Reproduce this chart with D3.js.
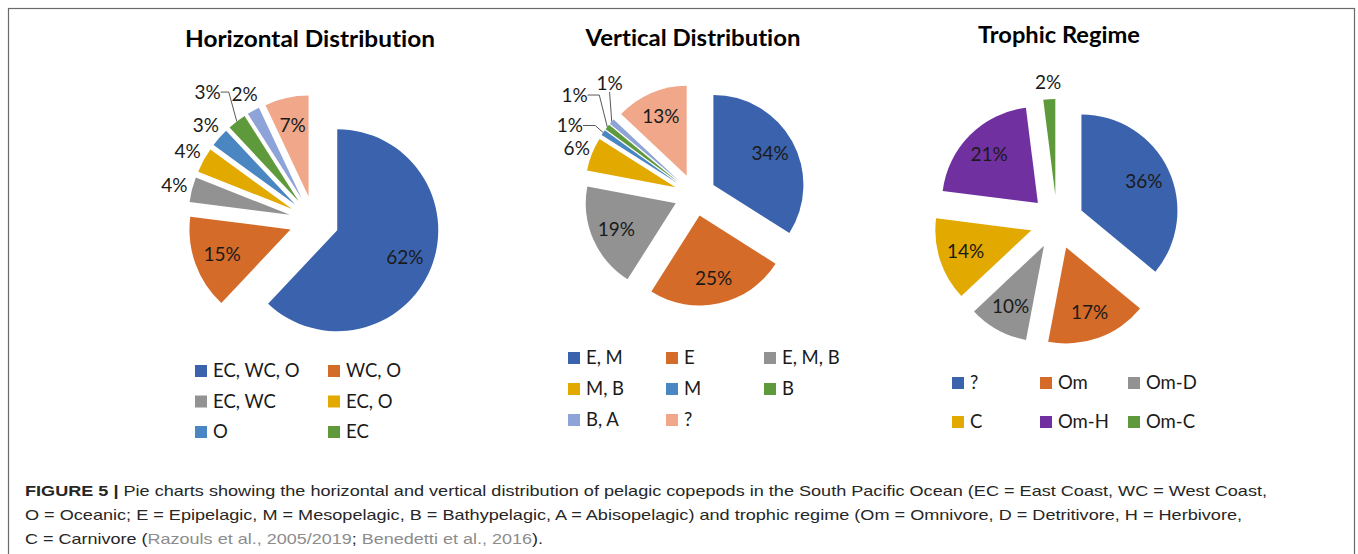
<!DOCTYPE html>
<html lang="en">
<head>
<meta charset="utf-8">
<script src="https://cdnjs.cloudflare.com/ajax/libs/d3/7.8.5/d3.min.js"></script>
<style>
html, body { margin: 0; padding: 0; background: #fff; }
svg { display: block; font-variant-ligatures: none; }
.title { font-family: Lato, 'Open Sans', sans-serif; font-weight: bold; font-size: 22px; fill: #000; }
.pct { font-family: Lato, 'Open Sans', sans-serif; font-size: 19px; fill: #1a1a1a; }
.legend text { font-family: Lato, 'Open Sans', sans-serif; font-size: 18.5px; fill: #1a1a1a; }
.caption { font-family: 'Liberation Sans', Arial, sans-serif; font-size: 15px; fill: #262626; }
.caption .cite { fill: #8c8c8c; }
.caption .bold { font-weight: bold; }
</style>
</head>
<body>
<svg width="1358" height="554"></svg>
<script>
// ---- data ----
const horizCategories = ['EC, WC, O', 'WC, O', 'EC, WC', 'EC, O', 'O', 'EC', 'WC', '?'];
const horizValues = [62, 15, 4, 4, 3, 3, 2, 7];

const vertCategories = ['E, M', 'E', 'E, M, B', 'M, B', 'M', 'B', 'B, A', '?'];
const vertValues = [34, 25, 19, 6, 1, 1, 1, 13];

const trophCategories = ['?', 'Om', 'Om-D', 'C', 'Om-H', 'Om-C'];
const trophValues = [36, 17, 10, 14, 21, 2];

const officeColors = ['#3a62ad', '#d46b28', '#929292', '#e2a900', '#4a86c1', '#5e9a3b', '#8ea3d7', '#f0a78a'];
const trophColors = ['#3a62ad', '#d46b28', '#929292', '#e2a900', '#7030a0', '#5e9a3b'];

// ---- layout ----
// labelNudge: excel moved a few crowded outside labels and drew leader lines to them
const charts = [
  { title: 'Horizontal Distribution', titleW: 250, cats: horizCategories, values: horizValues, colors: officeColors,
    cx: 314, cy: 221, r: 101, explode: 25, titleX: 310, titleY: 47,
    labelNudge: { 5: [-18, -15] },
    legend: { x: 195, y: 371, colW: 133, rowH: 30.5, cols: 2, shown: 6 } },
  { title: 'Vertical Distribution', titleW: 215, cats: vertCategories, values: vertValues, colors: officeColors,
    cx: 695, cy: 195, r: 90, explode: 21, titleX: 693, titleY: 46,
    labelNudge: { 4: [-20, 2], 5: [-20, -22], 6: [10, -28] },
    legend: { x: 568, y: 358, colW: 98, rowH: 31, cols: 3, shown: 8 } },
  { title: 'Trophic Regime', titleW: 162, cats: trophCategories, values: trophValues, colors: trophColors,
    cx: 1057, cy: 222, r: 96, explode: 27, titleX: 1059, titleY: 43,
    labelNudge: {},
    legend: { x: 952, y: 383, colW: 88, rowH: 39, cols: 3, shown: 6 } }
];

const svg = d3.select('svg');

svg.append('rect')
  .attr('x', 8.5).attr('y', 8.5)
  .attr('width', 1346).attr('height', 570)
  .attr('fill', 'none')
  .attr('stroke', '#6a6a6a')
  .attr('stroke-width', 1.2);

const dir = a => [Math.sin(a), -Math.cos(a)];

function drawPie(cfg) {
  const data = cfg.values.map((v, i) => ({ cat: cfg.cats[i], value: v, color: cfg.colors[i] }));

  svg.append('text')
    .attr('class', 'title')
    .attr('x', cfg.titleX - cfg.titleW / 2)
    .attr('y', cfg.titleY)
    .attr('textLength', cfg.titleW)
    .attr('lengthAdjust', 'spacingAndGlyphs')
    .text(cfg.title);

  const g = svg.append('g').attr('transform', `translate(${cfg.cx},${cfg.cy})`);
  const arcs = d3.pie().sort(null).value(d => d.value)(data);
  const arc = d3.arc().innerRadius(0).outerRadius(cfg.r);

  arcs.forEach(d => {
    d.mid = (d.startAngle + d.endAngle) / 2;
    const [ux, uy] = dir(d.mid);
    d.ux = ux; d.uy = uy;
    d.ox = ux * cfg.explode;
    d.oy = uy * cfg.explode;
  });

  g.selectAll('path.slice')
    .data(arcs)
    .join('path')
    .attr('class', 'slice')
    .attr('transform', d => `translate(${d.ox},${d.oy})`)
    .attr('d', arc)
    .attr('fill', d => d.data.color);

  // labels: big slices inside, small ones outside (excel "best fit")
  const labels = arcs.map(d => {
    const inside = d.data.value >= 7;
    const k = inside ? 0.72 : 1.18;
    let x = d.ox + d.ux * cfg.r * k;
    let y = d.oy + d.uy * cfg.r * k;
    const nudge = cfg.labelNudge[d.index];
    if (nudge) { x += nudge[0]; y += nudge[1]; }
    return { d, inside, x, y, leader: !!nudge };
  });

  const hw = 12;
  g.selectAll('polyline.leader')
    .data(labels.filter(l => l.leader))
    .join('polyline')
    .attr('class', 'leader')
    .attr('points', l => {
      const ex = l.d.ox + l.d.ux * cfg.r;
      const ey = l.d.oy + l.d.uy * cfg.r;
      if (l.x + hw < ex - 4) {
        const sx = l.x + hw + 1;
        const mx = Math.max(sx, ex - 8);
        return `${sx},${l.y} ${mx},${l.y} ${ex},${ey}`;
      }
      return `${l.x},${l.y + 9} ${ex},${ey}`;
    })
    .attr('fill', 'none')
    .attr('stroke', '#595959')
    .attr('stroke-width', 1);

  g.selectAll('text.pct')
    .data(labels)
    .join('text')
    .attr('class', 'pct')
    .attr('x', l => l.x)
    .attr('y', l => l.y)
    .attr('dy', '0.35em')
    .attr('text-anchor', 'middle')
    .text(l => l.d.data.value + '%');

  // legend
  const lg = cfg.legend;
  const items = data.slice(0, lg.shown);
  const leg = svg.append('g').attr('class', 'legend');
  const it = leg.selectAll('g')
    .data(items)
    .join('g')
    .attr('transform', (d, i) => `translate(${lg.x + (i % lg.cols) * lg.colW},${lg.y + Math.floor(i / lg.cols) * lg.rowH})`);
  it.append('rect')
    .attr('x', 0).attr('y', -6)
    .attr('width', 12).attr('height', 12)
    .attr('fill', d => d.color);
  it.append('text')
    .attr('x', 18)
    .attr('y', 0)
    .attr('dy', '0.35em')
    .text(d => d.cat);
}

charts.forEach(drawPie);

// caption
const captionLines = [
  [['FIGURE 5 |', 'bold'], [' Pie charts showing the horizontal and vertical distribution of pelagic copepods in the South Pacific Ocean (EC = East Coast, WC = West Coast,', '']],
  [['O = Oceanic; E = Epipelagic, M = Mesopelagic, B = Bathypelagic, A = Abisopelagic) and trophic regime (Om = Omnivore, D = Detritivore, H = Herbivore,', '']],
  [['C = Carnivore (', ''], ['Razouls et al., 2005/2019', 'cite'], ['; ', ''], ['Benedetti et al., 2016', 'cite'], [').', '']]
];
const capY = [496, 520, 544];
const capW = [1242, 1217, 518];

captionLines.forEach((parts, i) => {
  const t = svg.append('text')
    .attr('class', 'caption')
    .attr('x', 25)
    .attr('y', capY[i])
    .attr('textLength', capW[i])
    .attr('lengthAdjust', 'spacingAndGlyphs');
  parts.forEach(([s, cls]) => t.append('tspan').attr('class', cls).text(s));
});
</script>
</body>
</html>
